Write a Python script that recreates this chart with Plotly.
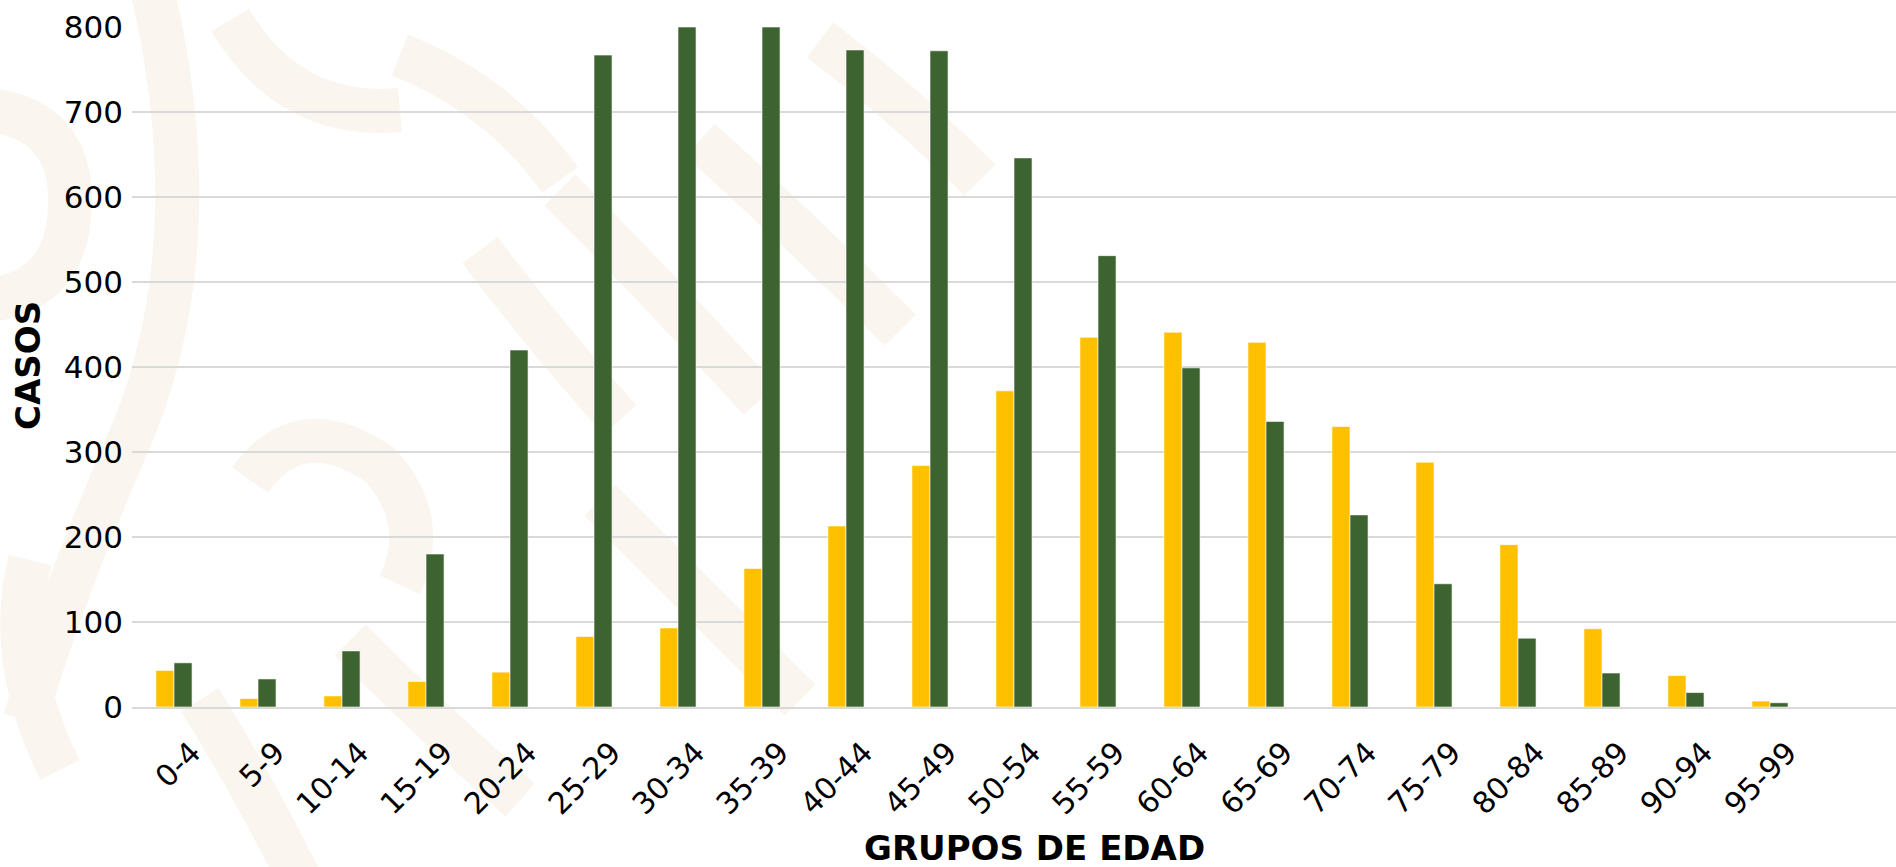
import plotly.graph_objects as go

grupos = ["0-4", "5-9", "10-14", "15-19", "20-24", "25-29", "30-34", "35-39",
          "40-44", "45-49", "50-54", "55-59", "60-64", "65-69", "70-74",
          "75-79", "80-84", "85-89", "90-94", "95-99"]

# yellow series
defunciones = [43, 10, 13, 30, 41, 83, 93, 163, 213, 284, 372, 435, 441,
               429, 330, 288, 191, 92, 37, 7]
# green series
confirmados = [52, 33, 66, 180, 420, 767, 800, 800, 773, 772, 646, 531, 399,
               336, 226, 145, 81, 40, 17, 5]

y_ticks = [0, 100, 200, 300, 400, 500, 600, 700, 800]

fuente = "DejaVu Sans"

# plot area in pixels, used to place the decorative background strokes
L, R, T, B = 132, 1896, 27, 707


def px(x, y):
    return (x - L) / (R - L), (B - y) / (B - T)


def trazo(puntos):
    # quadratic path through pixel points: M p0 Q p1 p2 Q p3 p4 ...
    p = [px(x, y) for x, y in puntos]
    s = "M %.4f,%.4f" % p[0]
    for i in range(1, len(p) - 1, 2):
        s += " Q %.4f,%.4f %.4f,%.4f" % (p[i] + p[i + 1])
    return s


fondo = [
    [(150, -20), (215, 250), (125, 450), (60, 600), (25, 720)],
    [(-10, 110), (70, 120), (70, 200), (70, 290), (-10, 300)],
    [(230, 20), (290, 120), (400, 110)],
    [(400, 55), (500, 95), (560, 180)],
    [(250, 480), (300, 410), (380, 465), (430, 520), (400, 585)],
    [(480, 250), (540, 330), (620, 420)],
    [(560, 190), (660, 290), (760, 400)],
    [(700, 140), (800, 230), (900, 330)],
    [(350, 640), (430, 720), (520, 800)],
    [(200, 700), (250, 780), (300, 880)],
    [(600, 500), (700, 600), (800, 700)],
    [(30, 560), (5, 660), (60, 770)],
    [(820, 40), (900, 100), (980, 180)],
]

fig = go.Figure()
fig.add_trace(go.Bar(
    x=grupos, y=defunciones, name="Defunciones",
    marker=dict(color="#FFC000", line=dict(color="rgba(255,255,255,0.6)", width=1))
))
fig.add_trace(go.Bar(
    x=grupos, y=confirmados, name="Confirmados",
    marker=dict(color="#3D6430", line=dict(color="rgba(255,255,255,0.6)", width=1))
))

for f in fondo:
    fig.add_shape(type="path", path=trazo(f), xref="paper", yref="paper",
                  line=dict(color="#FAF6EF", width=44), layer="below")

fig.update_layout(
    width=1896, height=867,
    barmode="group", bargap=0.57, bargroupgap=0,
    showlegend=False,
    plot_bgcolor="rgba(0,0,0,0)", paper_bgcolor="white",
    margin=dict(l=L, r=0, t=T, b=867 - B),
    font=dict(family=fuente, color="black", size=31),
)
fig.update_xaxes(
    type="category", range=[-0.5, 20.5],
    tickangle=-45, tickfont=dict(size=30),
    ticklabelstandoff=14, ticklabelshift=18,
    showgrid=False, showline=True, linecolor="#d9d9d9", linewidth=2,
    ticks="",
)
fig.update_yaxes(
    range=[0, 800], tickvals=y_ticks, tickfont=dict(size=31),
    showgrid=True, gridcolor="#d9d9d9", gridwidth=2,
    zeroline=False, showline=False, ticks="",
    ticklabelstandoff=8,
)

cx, cy = px(1034, 848)
fig.add_annotation(text="<b>GRUPOS DE EDAD</b>", xref="paper", yref="paper",
                   x=cx, y=cy, showarrow=False, font=dict(size=34),
                   xanchor="center", yanchor="middle")
cx, cy = px(28, 366)
fig.add_annotation(text="<b>CASOS</b>", xref="paper", yref="paper",
                   x=cx, y=cy, showarrow=False, font=dict(size=34),
                   textangle=-90, xanchor="center", yanchor="middle")

fig.write_html("out.html", config={"displayModeBar": False},
               post_script="document.body.style.margin='0';document.body.style.overflow='hidden';")
